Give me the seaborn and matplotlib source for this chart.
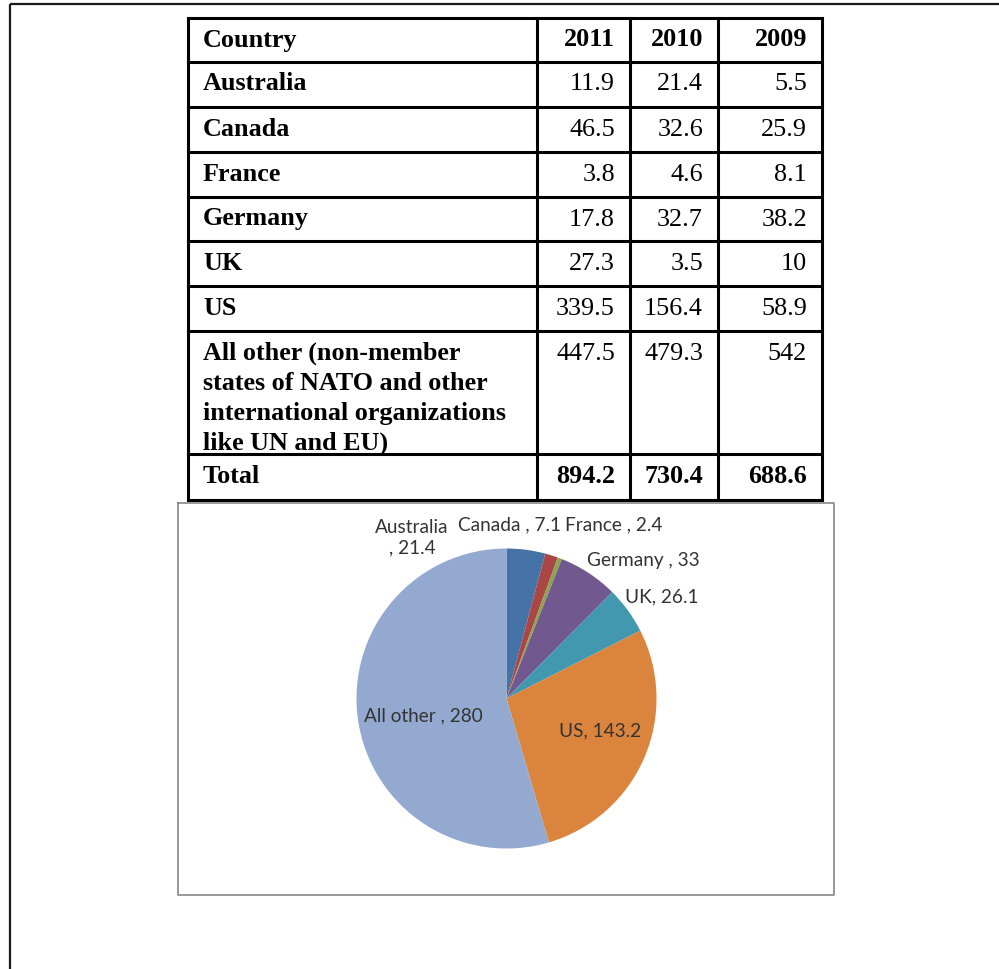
import matplotlib
matplotlib.use("Agg")
import matplotlib.pyplot as plt
import seaborn as sns

# ---- table data ----
col_headers = ["Country", "2011", "2010", "2009"]
countries = [
    "Australia",
    "Canada",
    "France",
    "Germany",
    "UK",
    "US",
    "All other (non-member\nstates of NATO and other\ninternational organizations\nlike UN and EU)",
]
vals_2011 = [11.9, 46.5, 3.8, 17.8, 27.3, 339.5, 447.5]
vals_2010 = [21.4, 32.6, 4.6, 32.7, 3.5, 156.4, 479.3]
vals_2009 = [5.5, 25.9, 8.1, 38.2, 10, 58.9, 542]
total_label = "Total"
totals = [894.2, 730.4, 688.6]

# ---- pie data ----
pie_names = ["Australia", "Canada", "France", "Germany", "UK", "US", "All other"]
pie_values = [21.4, 7.1, 2.4, 33, 26.1, 143.2, 280]
pie_seps = ["\n, ", " , ", " , ", " , ", ", ", ", ", " , "]
pie_colors = ["#4572A7", "#AA4643", "#89A54E", "#71588F", "#4198AF", "#DB843D", "#93A9CF"]

sns.set_theme(style="white")
plt.rcParams["font.family"] = ["Liberation Serif", "DejaVu Serif"]

W, H = 999, 970
fig = plt.figure(figsize=(W / 100, H / 100), dpi=100)
fig.patch.set_facecolor("white")

# full-figure canvas in pixel units for frame and table
bg = fig.add_axes([0, 0, 1, 1])
bg.set_xlim(0, W)
bg.set_ylim(H, 0)
bg.axis("off")

# page frame
bg.plot([10, 10], [5, H], color="#1a1a1a", lw=1.6, solid_capstyle="butt")
bg.plot([10, W], [5, 5], color="#1a1a1a", lw=1.6, solid_capstyle="butt")

# table grid
col_x = [188, 537, 630, 718, 822]
row_y = [18.5, 62.5, 108, 153, 197.5, 242, 287, 332, 455, 500.5]
lw_tab = 2.2
for x in col_x:
    bg.plot([x, x], [row_y[0], row_y[-1]], color="black", lw=lw_tab, solid_capstyle="projecting")
for y in row_y:
    bg.plot([col_x[0], col_x[-1]], [y, y], color="black", lw=lw_tab, solid_capstyle="projecting")

fs = 18.8
pad_left = 15
pad_right = 15
base_off = 28
line_gap = 30


def fmt(v):
    return "{:g}".format(v)


def cell_row(r, label, values, bold_values):
    top = row_y[r]
    for i, line in enumerate(label.split("\n")):
        bg.text(col_x[0] + pad_left, top + base_off + i * line_gap, line,
                fontsize=fs, fontweight="bold", ha="left", va="baseline", color="black")
    for c, v in enumerate(values):
        bg.text(col_x[c + 2] - pad_right, top + base_off, v,
                fontsize=fs, fontweight="bold" if bold_values else "normal",
                ha="right", va="baseline", color="black")


cell_row(0, col_headers[0], col_headers[1:], True)
for i, name in enumerate(countries):
    cell_row(i + 1, name, [fmt(vals_2011[i]), fmt(vals_2010[i]), fmt(vals_2009[i])], False)
cell_row(len(countries) + 1, total_label, [fmt(t) for t in totals], True)

# chart box
bx0, by0, bx1, by1 = 177.5, 504, 834, 895.5
bg.plot([bx0, bx1, bx1, bx0, bx0], [by0, by0, by1, by1, by0], color="#878787", lw=1.2)

# pie axes: centre (506.5, 699.5), radius 150 px
cx, cy, r = 506.5, 699.5, 150
pax = fig.add_axes([(cx - r) / W, 1 - (cy + r) / H, 2 * r / W, 2 * r / H])
pax.pie(pie_values, colors=sns.color_palette(pie_colors), startangle=90,
        counterclock=False, radius=1.0, wedgeprops=dict(linewidth=0))
pax.set_xlim(-1, 1)
pax.set_ylim(-1, 1)
pax.set_aspect("equal")
pax.axis("off")

# data labels
label_pos = [(412, 538), (509, 525), (614, 525), (643, 561), (662, 597), (600, 731), (423, 716)]
for name, sep, v, (lx, ly) in zip(pie_names, pie_seps, pie_values, label_pos):
    bg.text(lx, ly, f"{name}{sep}{fmt(v)}", fontsize=13.7, family=["Lato", "DejaVu Sans"],
            ha="center", va="center", color="#333333", linespacing=1.25, zorder=5)
bg.set_zorder(3)
bg.patch.set_alpha(0)

fig.savefig("out.png", dpi=100, facecolor="white")
